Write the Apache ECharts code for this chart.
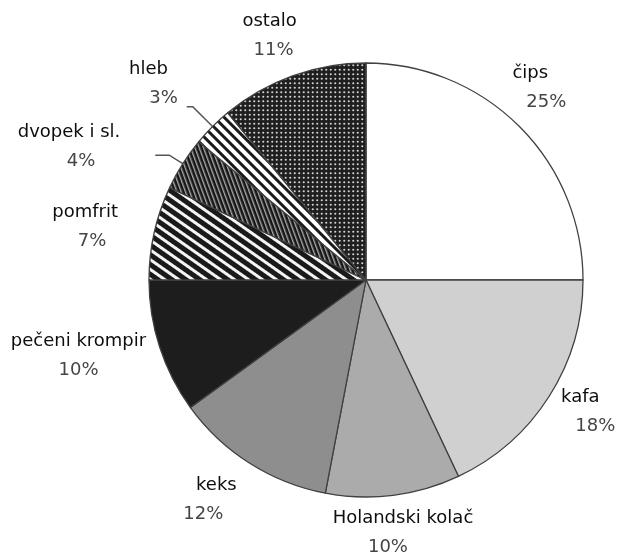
<!DOCTYPE html>
<html>
<head>
<meta charset="utf-8">
<script src="https://cdn.jsdelivr.net/npm/echarts@6/dist/echarts.min.js"></script>
<style>
  html, body { margin: 0; padding: 0; background: #ffffff; }
  #chart { width: 618px; height: 556px; }
</style>
</head>
<body>
<div id="chart"></div>
<script>
// Shares of snack categories (percent), clockwise from 12 o'clock
const categories = ['čips', 'kafa', 'Holandski kolač', 'keks', 'pečeni krompir', 'pomfrit', 'dvopek i sl.', 'hleb', 'ostalo'];
const shares = [25, 18, 10, 12, 10, 7, 4, 3, 11];
const percentSuffix = '%';

const FONT = '"DejaVu Sans", Verdana, sans-serif';
const CX = 366, CY = 280, R = 217;

// ---- fill patterns -------------------------------------------------------
function stripeTile(period, darkSize, dark, light) {
  const c = document.createElement('canvas');
  c.width = 8; c.height = period;
  const g = c.getContext('2d');
  g.fillStyle = light; g.fillRect(0, 0, 8, period);
  g.fillStyle = dark; g.fillRect(0, 0, 8, darkSize);
  return c;
}
function dotTile() {
  const c = document.createElement('canvas');
  c.width = 9; c.height = 9;
  const g = c.getContext('2d');
  g.fillStyle = '#1f1f1f'; g.fillRect(0, 0, 9, 9);
  g.fillStyle = '#d4d4d4';
  [[2.25, 2.25], [6.75, 2.25], [2.25, 6.75], [6.75, 6.75]].forEach(([x, y]) => {
    g.beginPath(); g.arc(x, y, 1.05, 0, Math.PI * 2); g.fill();
  });
  return c;
}
const deg = Math.PI / 180;
const fills = [
  '#ffffff',
  '#d0d0d0',
  '#ababab',
  '#8e8e8e',
  '#1d1d1d',
  { image: stripeTile(8, 5, '#1a1a1a', '#f4f4f4'), repeat: 'repeat', rotation: 35 * deg },
  { image: stripeTile(4, 2.6, '#161616', '#a8a8a8'), repeat: 'repeat', rotation: 70 * deg },
  { image: stripeTile(7, 3, '#1a1a1a', '#ffffff'), repeat: 'repeat', rotation: 45 * deg },
  { image: dotTile(), repeat: 'repeat' }
];

// ---- label placement ------------------------------------------------------
// [dx, dy] nudge from a point 255px out along the slice bisector; null = keep leader-line layout
const labelNudge = [[-16, -12], [-1, -5], [5, 0], [-13, 5], [-45, -3], [-32, 2], null, null, [-10, -4]];
// horizontal offset of the percent line relative to the name line
const pctShift = [16, 15, -15, -13, 0, 7, 12, 15, 4];
// leader lines for the two narrow slices
const leader = {
  6: { length: 16, length2: 14, padding: [0, 30, 16, 0] },
  7: { length: 28, length2: 6, padding: [0, 4, 46, 0] }
};

const cumulative = [];
shares.reduce((acc, v, i) => { cumulative[i] = acc; return acc + v; }, 0);
const total = shares.reduce((a, b) => a + b, 0);

const data = categories.map((name, i) => {
  const s = pctShift[i];
  const item = {
    name,
    value: shares[i],
    itemStyle: { color: fills[i] },
    label: {
      rich: {
        p: { padding: s >= 0 ? [0, 0, 0, 2 * s] : [0, -2 * s, 0, 0] }
      }
    }
  };
  if (leader[i]) {
    item.labelLine = { show: true, length: leader[i].length, length2: leader[i].length2 };
    item.label.padding = leader[i].padding;
  }
  return item;
});

const chart = echarts.init(document.getElementById('chart'), null, { renderer: 'canvas' });
chart.setOption({
  backgroundColor: '#ffffff',
  animation: false,
  series: [{
    type: 'pie',
    center: [CX, CY],
    radius: R,
    startAngle: 90,
    clockwise: true,
    avoidLabelOverlap: false,
    silent: true,
    itemStyle: { borderColor: '#404040', borderWidth: 1.3 },
    label: {
      show: true,
      position: 'outside',
      distanceToLabelLine: 5,
      formatter: p => `{n|${p.name}}\n{p|${p.value}${percentSuffix}}`,
      rich: {
        n: { fontFamily: FONT, fontSize: 18, color: '#0e0e0e', align: 'center', lineHeight: 29 },
        p: { fontFamily: FONT, fontSize: 18, color: '#454545', align: 'center', lineHeight: 29 }
      }
    },
    labelLine: { show: false, smooth: false, lineStyle: { color: '#555555', width: 1.5 } },
    labelLayout: params => {
      const i = params.dataIndex;
      const nudge = labelNudge[i];
      if (!nudge) return {};
      const theta = (cumulative[i] + shares[i] / 2) / total * Math.PI * 2;
      return {
        x: CX + 255 * Math.sin(theta) + nudge[0],
        y: CY - 255 * Math.cos(theta) + nudge[1],
        align: 'center',
        verticalAlign: 'middle'
      };
    },
    data
  }]
});
</script>
</body>
</html>
